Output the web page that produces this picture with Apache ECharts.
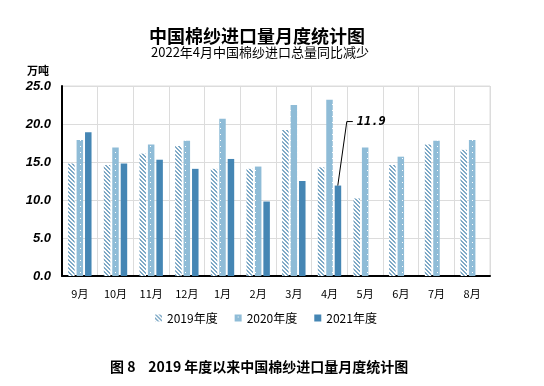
<!DOCTYPE html>
<html><head><meta charset="utf-8">
<script src="https://cdn.jsdelivr.net/npm/echarts@6/dist/echarts.min.js"></script>
<style>html,body{margin:0;padding:0;background:#fff}#c{width:544px;height:386px}</style>
</head><body><div id="c"></div>
<script>
var categories = ['9月','10月','11月','12月','1月','2月','3月','4月','5月','6月','7月','8月'];
var y2019 = [14.8,14.6,16.1,17.1,14.1,14.1,19.2,14.3,10.2,14.6,17.3,16.6];
var y2020 = [17.9,16.9,17.3,17.8,20.7,14.4,22.5,23.2,16.9,15.7,17.8,17.9];
var y2021 = [18.9,14.8,15.3,14.1,15.4,9.8,12.5,11.9,null,null,null,null];
var seriesNames = ['2019年度','2020年度','2021年度'];
var yTicks = [0,5,10,15,20,25];
var calloutIndex = 7;

function stripe(){
  var c=document.createElement('canvas');c.width=4;c.height=4;
  var g=c.getContext('2d');g.fillStyle='#ffffff';g.fillRect(0,0,4,4);
  g.fillStyle='#7ea9c6';
  for(var i=0;i<4;i++){g.fillRect(i,i,1,1);g.fillRect((i+1)%4,i,1,1);}
  return c;
}
function dots(){
  var c=document.createElement('canvas');c.width=7;c.height=6;
  var g=c.getContext('2d');g.fillStyle='#8fbcd7';g.fillRect(0,0,7,6);
  g.fillStyle='#ffffff';g.fillRect(3,2,1,1);
  return c;
}
var chart = echarts.init(document.getElementById('c'));
chart.setOption({
  animation:false,
  title:[{text:'中国棉纱进口量月度统计图',left:144,top:22,textStyle:{fontFamily:'Noto Sans CJK SC',fontSize:18,fontWeight:'bold',color:'#000'}},
    {text:'2022年4月中国棉纱进口总量同比减少',left:146,top:41,textStyle:{fontFamily:'Noto Sans CJK SC',fontSize:13,fontWeight:'normal',color:'#000'}},
    {text:'万吨',left:22,top:60,textStyle:{fontFamily:'Noto Sans CJK SC',fontSize:11,fontWeight:'bold',color:'#000'}},
    {text:'图 8    2019 年度以来中国棉纱进口量月度统计图',left:105,top:355,textStyle:{fontFamily:'Noto Sans CJK SC',fontSize:14,fontWeight:'bold',color:'#000'}}],
  legend:{bottom:57,left:150,itemWidth:7,itemHeight:7,itemGap:17,icon:'rect',
    textStyle:{fontFamily:'Noto Sans CJK SC',fontSize:12,color:'#000'},data:seriesNames},
  grid:{left:62,right:54,top:86,bottom:110,show:true,borderColor:'#dcdcdc',borderWidth:1},
  xAxis:{type:'category',data:categories,
    axisLine:{lineStyle:{color:'#000',width:2}},axisTick:{show:false},
    splitLine:{show:true,lineStyle:{color:'#dcdcdc',width:1}},
    axisLabel:{fontFamily:'Noto Sans CJK SC',fontSize:11,color:'#000',margin:12}},
  yAxis:{type:'value',min:0,max:25,interval:5,
    axisLine:{show:true,lineStyle:{color:'#000',width:2}},axisTick:{show:false},
    splitLine:{lineStyle:{color:'#dcdcdc',width:1}},
    axisLabel:{formatter:function(v){return yTicks.indexOf(v)>=0?v.toFixed(1):'';},fontFamily:'Liberation Sans',fontSize:13,fontWeight:'bold',fontStyle:'italic',color:'#000',margin:11}},
  series:[
    {name:seriesNames[0],type:'bar',data:y2019,barWidth:6.5,barGap:'30%',itemStyle:{color:{image:stripe(),repeat:'repeat'}}},
    {name:seriesNames[1],type:'bar',data:y2020,barWidth:6.5,barGap:'30%',itemStyle:{color:{image:dots(),repeat:'repeat'}}},
    {name:seriesNames[2],type:'bar',data:y2021,barWidth:6.5,barGap:'30%',itemStyle:{color:'#4586b4'}},
    {type:'custom',name:'callout',z:5,silent:true,
      data:[[calloutIndex, y2021[calloutIndex]]],
      renderItem:function(params, api){
        var p = api.coord([api.value(0), api.value(1)]);
        var bw = api.size([1,0])[0];
        var x0 = p[0] + 8.3; // centre of third bar in group
        var y0 = p[1];
        return {type:'group',children:[
          {type:'polyline',shape:{points:[[x0,y0],[x0+9,y0-64],[x0+15,y0-64]]},style:{stroke:'#000',lineWidth:1,fill:null}},
          {type:'text',x:x0+19,y:y0-64,style:{text:api.value(1).toFixed(1),fontFamily:'DejaVu Sans Mono',fontStyle:'italic',fontWeight:'bold',fontSize:12,fill:'#000',verticalAlign:'middle',align:'left'}}
        ]};
      }}
  ]
});
</script></body></html>
